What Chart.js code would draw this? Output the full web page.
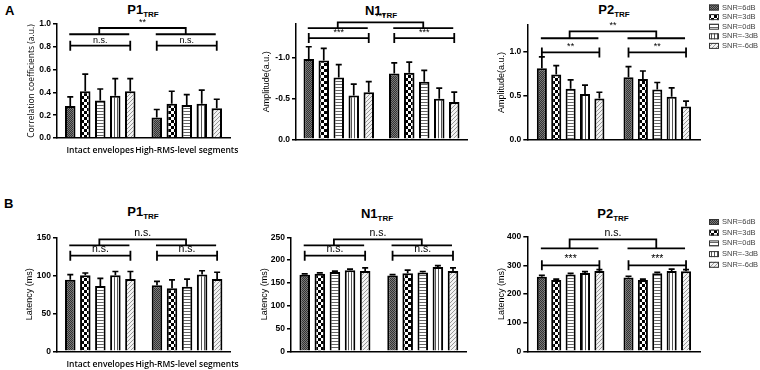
<!DOCTYPE html>
<html>
<head>
<meta charset="utf-8">
<script src="https://cdn.jsdelivr.net/npm/chart.js@4/dist/chart.umd.min.js"></script>
<style>
  body { margin: 0; background: #fff; width: 760px; height: 370px; position: relative; overflow: hidden;
         font-family: 'Liberation Sans', Arial, sans-serif; }
  canvas { position: absolute; }
  .ttl { position: absolute; width: 100px; text-align: center; font-weight: bold; font-size: 13px; line-height: 14px; }
  .ttl sub { font-size: 8px; vertical-align: -3px; }
  .lt { position: absolute; font-weight: bold; font-size: 13px; }
</style>
</head>
<body>
<div class="lt" style="left:5px;top:3px">A</div>
<div class="lt" style="left:4px;top:196px">B</div>

<div class="ttl" style="left:93px;top:3px">P1<sub>TRF</sub></div>
<div class="ttl" style="left:331px;top:4px">N1<sub>TRF</sub></div>
<div class="ttl" style="left:564px;top:3px">P2<sub>TRF</sub></div>
<div class="ttl" style="left:93px;top:205px">P1<sub>TRF</sub></div>
<div class="ttl" style="left:327px;top:207px">N1<sub>TRF</sub></div>
<div class="ttl" style="left:563px;top:207px">P2<sub>TRF</sub></div>

<canvas id="a1" width="270" height="185" style="left:0;top:0"></canvas>
<canvas id="a2" width="240" height="185" style="left:240px;top:0"></canvas>
<canvas id="a3" width="280" height="185" style="left:480px;top:0"></canvas>
<canvas id="b1" width="270" height="185" style="left:0;top:185px"></canvas>
<canvas id="b2" width="240" height="185" style="left:240px;top:185px"></canvas>
<canvas id="b3" width="280" height="185" style="left:480px;top:185px"></canvas>

<script>
// categories and series
const snrLevels = ['SNR=6dB', 'SNR=3dB', 'SNR=0dB', 'SNR=-3dB', 'SNR=-6dB'];
const groups = ['Intact envelopes', 'High-RMS-level segments'];

// each array: [intact envelopes, high-RMS-level segments], one value per SNR level
const p1Corr    = [[0.28, 0.41, 0.33, 0.37, 0.41], [0.18, 0.30, 0.29, 0.30, 0.26]];
const p1CorrErr = [[0.08, 0.15, 0.10, 0.15, 0.11], [0.07, 0.11, 0.09, 0.12, 0.08]];
const n1Amp     = [[-0.99, -0.97, -0.76, -0.54, -0.58], [-0.81, -0.82, -0.71, -0.50, -0.46]];
const n1AmpErr  = [[0.15, 0.15, 0.16, 0.14, 0.13], [0.13, 0.13, 0.14, 0.13, 0.12]];
const p2Amp     = [[0.81, 0.74, 0.58, 0.52, 0.47], [0.71, 0.69, 0.57, 0.49, 0.38]];
const p2AmpErr  = [[0.13, 0.10, 0.10, 0.10, 0.07], [0.12, 0.09, 0.08, 0.10, 0.06]];

const p1Lat    = [[94, 100, 86, 100, 95], [87, 83, 85, 101, 95]];
const p1LatErr = [[7, 3, 10, 5, 10], [5, 11, 10, 5, 9]];
const n1Lat    = [[168, 170, 174, 178, 176], [166, 171, 173, 185, 176]];
const n1LatErr = [[2, 2, 2, 2, 7], [2, 7, 2, 3, 7]];
const p2Lat    = [[260, 249, 268, 273, 280], [258, 249, 272, 280, 279]];
const p2LatErr = [[5, 3, 4, 5, 5], [4, 3, 4, 7, 6]];

// significance: [between groups, within intact, within high-RMS]
const p1CorrSig = ['**', 'n.s.', 'n.s.'];
const n1AmpSig  = ['***', '***', '***'];
const p2AmpSig  = ['**', '**', '**'];
const p1LatSig  = ['n.s.', 'n.s.', 'n.s.'];
const n1LatSig  = ['n.s.', 'n.s.', 'n.s.'];
const p2LatSig  = ['n.s.', '***', '***'];

Chart.defaults.color = '#000';
Chart.defaults.font.family = "'Liberation Sans', Arial, sans-serif";

// fill patterns, one per SNR level
function makePattern(w, h, draw) {
  const c = document.createElement('canvas');
  c.width = w; c.height = h;
  const g = c.getContext('2d');
  draw(g);
  return g.createPattern(c, 'repeat');
}
const patterns = [
  makePattern(2, 2, g => { g.fillStyle = '#333'; g.fillRect(0, 0, 2, 2); g.fillStyle = '#7a7a7a'; g.fillRect(0, 0, 1, 1); g.fillRect(1, 1, 1, 1); }),
  makePattern(6, 6, g => { g.fillStyle = '#000'; g.fillRect(0, 0, 6, 6); g.fillStyle = '#fff'; g.fillRect(0, 0, 3, 3); g.fillRect(3, 3, 3, 3); }),
  makePattern(3, 3, g => { g.fillStyle = '#fff'; g.fillRect(0, 0, 3, 3); g.fillStyle = '#666'; g.fillRect(0, 0, 3, 1); }),
  makePattern(3, 3, g => { g.fillStyle = '#fff'; g.fillRect(0, 0, 3, 3); g.fillStyle = '#555'; g.fillRect(0, 0, 1, 3); }),
  makePattern(4, 4, g => { g.fillStyle = '#f2f2f2'; g.fillRect(0, 0, 4, 4); g.fillStyle = '#999';
    g.fillRect(0, 3, 1, 1); g.fillRect(1, 2, 1, 1); g.fillRect(2, 1, 1, 1); g.fillRect(3, 0, 1, 1); })
];

// one-sided error bars
const errorBars = {
  id: 'errorBars',
  afterDatasetsDraw(chart) {
    const ctx = chart.ctx, y = chart.scales.y;
    ctx.save();
    ctx.strokeStyle = '#000';
    ctx.lineWidth = 1.7;
    chart.data.datasets.forEach((ds, i) => {
      chart.getDatasetMeta(i).data.forEach((bar, j) => {
        const v = ds.data[j];
        const top = y.getPixelForValue(v + Math.sign(v) * ds.errors[j]);
        ctx.beginPath();
        ctx.moveTo(bar.x, bar.y);
        ctx.lineTo(bar.x, top);
        ctx.moveTo(bar.x - 3, top);
        ctx.lineTo(bar.x + 3, top);
        ctx.stroke();
      });
    });
    ctx.restore();
  }
};

// significance brackets
const sigBars = {
  id: 'sigBars',
  afterDraw(chart, args, opts) {
    const ctx = chart.ctx, y = chart.scales.y;
    const first = chart.getDatasetMeta(0).data, last = chart.getDatasetMeta(4).data;
    const [upper, peak, lower] = opts.levels.map(v => y.getPixelForValue(v));
    ctx.save();
    ctx.strokeStyle = '#000';
    ctx.fillStyle = '#000';
    ctx.lineWidth = 1.8;
    ctx.textAlign = 'center';
    ctx.textBaseline = 'bottom';
    const mids = [];
    for (let j = 0; j < 2; j++) {
      const x0 = first[j].x, x1 = last[j].x;
      ctx.beginPath();
      ctx.moveTo(x0 - 1, upper); ctx.lineTo(x1 - 1, upper);
      ctx.moveTo(x0, lower); ctx.lineTo(x1, lower);
      ctx.moveTo(x0, lower - 5); ctx.lineTo(x0, lower + 5);
      ctx.moveTo(x1, lower - 5); ctx.lineTo(x1, lower + 5);
      ctx.stroke();
      mids.push((x0 + x1) / 2 - 1);
      ctx.font = opts.font;
      ctx.fillText(opts.sig[j + 1], (x0 + x1) / 2, lower - 1);
    }
    ctx.beginPath();
    ctx.moveTo(mids[0], upper); ctx.lineTo(mids[0], peak);
    ctx.lineTo(mids[1], peak); ctx.lineTo(mids[1], upper);
    ctx.stroke();
    ctx.fillText(opts.sig[0], (mids[0] + mids[1]) / 2, peak - 1);
    ctx.restore();
  }
};

// legend at the right of the P2 panels
const sideLegend = {
  id: 'sideLegend',
  afterDraw(chart, args, opts) {
    const ctx = chart.ctx;
    ctx.save();
    ctx.font = "7.5px 'Liberation Sans', Arial, sans-serif";
    ctx.textBaseline = 'middle';
    chart.data.datasets.forEach((ds, i) => {
      const yy = opts.y + i * opts.dy;
      ctx.fillStyle = ds.backgroundColor;
      ctx.fillRect(opts.x, yy - 3, 10, 6);
      ctx.strokeStyle = '#333';
      ctx.lineWidth = 1;
      ctx.strokeRect(opts.x + 0.5, yy - 2.5, 9, 5);
      ctx.fillStyle = '#444';
      ctx.fillText(ds.label, opts.tx, yy);
    });
    ctx.restore();
  }
};

function barChart(id, vals, errs, sig, o) {
  const datasets = snrLevels.map((lab, i) => ({
    label: lab,
    data: vals.map(r => r[i]),
    errors: errs.map(r => r[i]),
    backgroundColor: patterns[i],
    borderColor: '#000',
    borderWidth: 2,
    categoryPercentage: o.cat,
    barPercentage: 0.7
  }));
  return new Chart(document.getElementById(id), {
    type: 'bar',
    data: { labels: groups, datasets: datasets },
    options: {
      responsive: false,
      animation: false,
      devicePixelRatio: 1,
      layout: { padding: { left: 0, right: o.right, top: o.top, bottom: 0 } },
      plugins: {
        legend: { display: false },
        tooltip: { enabled: false },
        sigBars: { sig: sig, levels: o.levels, font: o.sigFont },
        sideLegend: o.legend || false
      },
      scales: {
        x: {
          grid: { display: false, drawTicks: false },
          border: { color: '#000', width: 1.5 },
          ticks: { display: o.showCats, maxRotation: 0, minRotation: 0, autoSkip: false, padding: o.catPad,
                   font: { family: "'Open Sans', sans-serif", size: 8.5, weight: '600' } },
          afterFit: s => { s.height = o.xh; }
        },
        y: {
          min: o.min, max: o.max, reverse: !!o.reverse,
          afterBuildTicks: s => {
            s.ticks = s.ticks.filter(t => Math.abs(t.value / o.step - Math.round(t.value / o.step)) < 1e-6);
          },
          ticks: { stepSize: o.step, padding: 2, font: { size: 8.5, weight: 'bold' }, callback: o.fmt },
          grid: { drawOnChartArea: false, tickLength: 4, color: '#000', lineWidth: 1.5 },
          border: { color: '#000', width: 1.5 },
          title: { display: true, text: o.ytitle, font: o.yfont, padding: { top: o.tpad, bottom: 0 } },
          afterFit: s => { s.width = o.yw; }
        }
      }
    },
    plugins: [errorBars, sigBars, sideLegend]
  });
}

const dec = v => v.toFixed(1);
const whole = v => String(v);
const smallSig = "9px 'Liberation Sans', Arial, sans-serif";
const bigSig = "10.5px 'Liberation Sans', Arial, sans-serif";

barChart('a1', p1Corr, p1CorrErr, p1CorrSig, {
  min: 0, max: 1.0, step: 0.2, fmt: dec, ytitle: 'Correlation coefficients (a.u.)',
  yfont: { family: "'Open Sans', sans-serif", size: 8.5 }, tpad: 26,
  yw: 57, right: 40, top: 24, xh: 47, cat: 0.867, showCats: true, catPad: 7,
  levels: [0.91, 0.965, 0.81], sigFont: smallSig
});
barChart('a2', n1Amp, n1AmpErr, n1AmpSig, {
  min: -1.42, max: 0, reverse: true, step: 0.5, fmt: dec, ytitle: 'Amplitude(a.u.)',
  yfont: { size: 9 }, tpad: 21,
  yw: 56, right: 13, top: 24, xh: 45.7, cat: 0.877, showCats: false, catPad: 6,
  levels: [-1.37, -1.44, -1.247], sigFont: smallSig
});
barChart('a3', p2Amp, p2AmpErr, p2AmpSig, {
  min: 0, max: 1.3, step: 0.5, fmt: dec, ytitle: 'Amplitude(a.u.)',
  yfont: { size: 9 }, tpad: 16,
  yw: 47.3, right: 59.4, top: 25, xh: 45, cat: 0.83, showCats: false, catPad: 6,
  levels: [1.15, 1.227, 0.99], sigFont: smallSig,
  legend: { x: 229, tx: 242, y: 7.5, dy: 9.6 }
});
barChart('b1', p1Lat, p1LatErr, p1LatSig, {
  min: 0, max: 150, step: 50, fmt: whole, ytitle: 'Latency (ms)',
  yfont: { size: 9 }, tpad: 24.5,
  yw: 57, right: 39.6, top: 52.3, xh: 18.7, cat: 0.867, showCats: true, catPad: 8,
  levels: [139.5, 147.4, 125.8], sigFont: bigSig
});
barChart('b2', n1Lat, n1LatErr, n1LatSig, {
  min: 0, max: 250, step: 50, fmt: whole, ytitle: 'Latency (ms)',
  yfont: { size: 9 }, tpad: 19.5,
  yw: 51, right: 13.3, top: 52.3, xh: 18.7, cat: 0.86, showCats: false, catPad: 8,
  levels: [232.5, 245.6, 209.6], sigFont: bigSig
});
barChart('b3', p2Lat, p2LatErr, p2LatSig, {
  min: 0, max: 400, step: 100, fmt: whole, ytitle: 'Latency (ms)',
  yfont: { size: 9 }, tpad: 16,
  yw: 47.3, right: 59.4, top: 51.7, xh: 18.7, cat: 0.83, showCats: false, catPad: 8,
  levels: [359.3, 390.6, 300], sigFont: bigSig,
  legend: { x: 229, tx: 242, y: 37, dy: 10.7 }
});
</script>
</body>
</html>
